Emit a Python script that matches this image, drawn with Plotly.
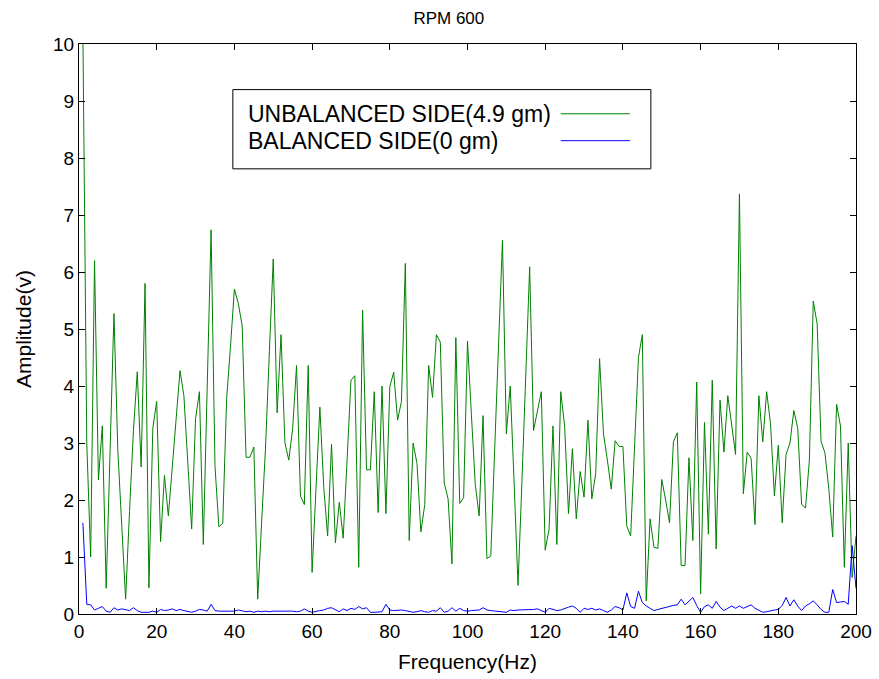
import plotly.graph_objects as go

freq_hz = list(range(1, 201))

unbalanced_49gm = [
    10.2, 3.0, 1.0, 6.2, 2.35, 3.3, 0.45, 2.9, 5.27, 2.86,
    1.55, 0.26, 1.8, 3.2, 4.25, 2.58, 5.8, 0.46, 3.26, 3.73,
    1.27, 2.43, 1.72, 2.6, 3.4, 4.27, 3.83, 2.6, 1.49, 3.43,
    3.9, 1.22, 4.0, 6.74, 2.6, 1.53, 1.59, 3.77, 4.7, 5.7,
    5.45, 5.06, 2.75, 2.75, 2.93, 0.26, 1.6, 2.9, 4.6, 6.23,
    3.53, 4.9, 3.0, 2.7, 3.26, 4.36, 2.07, 1.92, 4.36, 0.73,
    2.2, 3.63, 2.22, 1.37, 2.98, 1.25, 1.96, 1.33, 2.7, 4.1,
    4.18, 0.82, 5.33, 2.53, 2.53, 3.9, 1.78, 4.0, 1.76, 3.99,
    4.24, 3.4, 3.73, 6.15, 1.29, 3.0, 2.64, 1.44, 1.92, 4.36,
    3.8, 4.9, 4.77, 2.3, 2.02, 0.88, 4.85, 1.94, 2.04, 4.79,
    3.5, 2.27, 1.72, 3.48, 0.97, 1.02, 2.9, 4.7, 6.56, 3.16,
    4.0, 2.3, 0.5, 2.3, 4.2, 6.09, 3.22, 3.55, 3.9, 1.12,
    1.49, 3.3, 1.22, 3.9, 3.3, 1.76, 2.9, 1.67, 2.5, 2.05,
    3.4, 2.02, 2.46, 4.48, 3.16, 2.7, 2.19, 3.04, 2.94, 2.94,
    1.54, 1.37, 3.0, 4.5, 4.9, 0.23, 1.67, 1.17, 1.15, 2.36,
    2.0, 1.6, 3.02, 3.18, 0.85, 0.85, 2.74, 1.29, 4.07, 0.35,
    3.36, 1.4, 4.1, 1.14, 3.75, 2.84, 3.83, 3.34, 2.8, 7.37,
    2.11, 2.84, 2.73, 1.57, 3.83, 3.02, 3.9, 3.34, 2.07, 2.96,
    1.6, 2.8, 3.0, 3.57, 3.26, 1.92, 1.86, 2.7, 5.49, 5.09,
    3.03, 2.83, 2.2, 1.35, 3.68, 3.3, 0.82, 3.0, 0.64, 1.37,
]

balanced_0gm = [
    1.6, 0.17, 0.16, 0.07, 0.1, 0.13, 0.05, 0.03, 0.11, 0.07,
    0.09, 0.08, 0.06, 0.11, 0.06, 0.03, 0.03, 0.03, 0.05, 0.03,
    0.08, 0.06, 0.07, 0.09, 0.06, 0.08, 0.06, 0.04, 0.03, 0.05,
    0.08, 0.07, 0.05, 0.17, 0.06, 0.05, 0.05, 0.05, 0.05, 0.05,
    0.07, 0.05, 0.04, 0.05, 0.03, 0.05, 0.04, 0.05, 0.04, 0.05,
    0.05, 0.06, 0.05, 0.05, 0.05, 0.04, 0.05, 0.09, 0.05, 0.03,
    0.05, 0.06, 0.07, 0.1, 0.11, 0.07, 0.04, 0.09, 0.06, 0.1,
    0.08, 0.13, 0.09, 0.11, 0.03, 0.03, 0.03, 0.04, 0.17, 0.07,
    0.06, 0.07, 0.07, 0.06, 0.05, 0.03, 0.04, 0.06, 0.04, 0.03,
    0.06, 0.05, 0.11, 0.03, 0.05, 0.11, 0.05, 0.1, 0.06, 0.05,
    0.06, 0.06, 0.07, 0.11, 0.07, 0.06, 0.05, 0.05, 0.04, 0.03,
    0.07, 0.06, 0.07, 0.07, 0.07, 0.07, 0.08, 0.09, 0.06, 0.03,
    0.1, 0.08, 0.06, 0.07, 0.1, 0.12, 0.14, 0.1, 0.03, 0.1,
    0.08, 0.1, 0.07, 0.09, 0.06, 0.03, 0.07, 0.13, 0.11, 0.07,
    0.37, 0.13, 0.1, 0.4, 0.2, 0.14, 0.1, 0.06, 0.08, 0.1,
    0.12, 0.13, 0.15, 0.16, 0.26, 0.16, 0.22, 0.29, 0.15, 0.03,
    0.13, 0.16, 0.1, 0.22, 0.12, 0.06, 0.1, 0.14, 0.1, 0.14,
    0.1, 0.13, 0.16, 0.1, 0.06, 0.03, 0.04, 0.06, 0.07, 0.08,
    0.15, 0.29, 0.14, 0.25, 0.14, 0.06, 0.14, 0.18, 0.23, 0.16,
    0.08, 0.03, 0.03, 0.43, 0.2, 0.21, 0.22, 0.17, 1.2, 0.45,
]

series_names = ["UNBALANCED SIDE(4.9 gm)", "BALANCED SIDE(0 gm)"]
series_colors = ["#008000", "#0000FF"]
x_ticks = [0, 20, 40, 60, 80, 100, 120, 140, 160, 180, 200]
y_ticks = [0, 1, 2, 3, 4, 5, 6, 7, 8, 9, 10]

FONT = "Liberation Sans, Arial, sans-serif"

fig = go.Figure()
for name, vals, col in zip(series_names, [unbalanced_49gm, balanced_0gm], series_colors):
    fig.add_trace(go.Scatter(x=freq_hz, y=vals, mode="lines", name=name,
                             line=dict(color=col, width=1), showlegend=False))

axis_common = dict(showline=True, linecolor="black", linewidth=1, mirror="ticks",
                   ticks="inside", ticklen=6, tickcolor="black", showgrid=False,
                   zeroline=False, automargin=False,
                   tickfont=dict(family=FONT, size=19, color="black"))

fig.update_layout(
    width=879, height=679,
    margin=dict(l=79, r=23, t=44, b=65, autoexpand=False),
    paper_bgcolor="white", plot_bgcolor="white",
    title=dict(text="RPM 600", x=0.476, xref="paper", xanchor="center",
               y=1 - 18 / 679, yanchor="middle",
               font=dict(family=FONT, size=17, color="black")),
    xaxis=dict(range=[0, 200], tickvals=x_ticks, **axis_common),
    yaxis=dict(range=[0, 10], tickvals=y_ticks, **axis_common),
)

# axis titles
fig.add_annotation(xref="paper", yref="paper", x=0.5, y=-47 / 570, text="Frequency(Hz)",
                   showarrow=False, xanchor="center", yanchor="middle",
                   font=dict(family=FONT, size=21, color="black"))
fig.add_annotation(xref="paper", yref="paper", x=-56 / 777, y=0.5, text="Amplitude(v)",
                   showarrow=False, xanchor="center", yanchor="middle", textangle=-90,
                   font=dict(family=FONT, size=21, color="black"))

# custom legend (text on the left, line sample on the right)
lx0, lx1, ly0, ly1 = 0.198, 0.736, 0.781, 0.92
fig.add_shape(type="rect", xref="paper", yref="paper", x0=lx0, x1=lx1, y0=ly0, y1=ly1,
              line=dict(color="black", width=1), fillcolor="white", layer="above")
rows_y = [0.8776, 0.8304]
for name, col, ry in zip(series_names, series_colors, rows_y):
    fig.add_annotation(xref="paper", yref="paper", x=0.215, y=ry, text=name,
                       showarrow=False, xanchor="left", yanchor="middle",
                       font=dict(family=FONT, size=23, color="black"))
    fig.add_shape(type="line", xref="paper", yref="paper", x0=0.620, x1=0.709,
                  y0=ry, y1=ry, line=dict(color=col, width=1), layer="above")

fig.write_html("out.html", config={"displayModeBar": False},
               post_script="document.body.style.margin='0px';")
